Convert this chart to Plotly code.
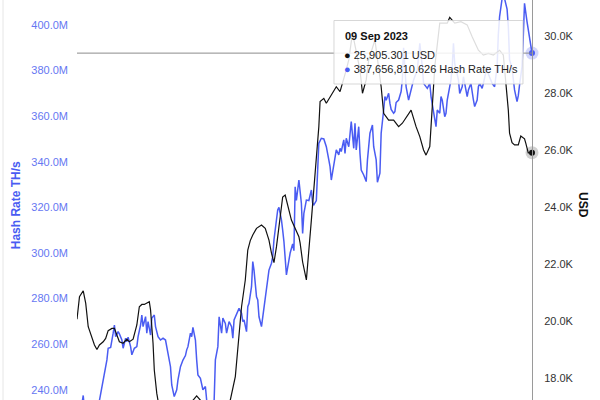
import pandas as pd
import plotly.graph_objects as go

START = "2022-09-09"

# ---- BTC price (USD), day offset from START ----
price_day = [0, 2, 5, 7, 9, 12, 14, 16, 18, 21,
             23, 25, 28, 30, 32, 34, 37, 40, 42, 45,
             48, 50, 52, 54, 58, 59, 61, 62, 64, 67,
             77, 87, 93, 96, 99, 107, 118, 123, 127, 129,
             132, 135, 137, 139, 141, 144, 148, 151, 154, 156,
             158, 160, 162, 165, 167, 172, 178, 179, 181, 184,
             188, 192, 194, 195, 198, 200, 203, 206, 208, 211,
             214, 216, 218, 221, 227, 229, 232, 234, 239, 244,
             246, 250, 254, 258, 261, 266, 268, 272, 275, 278,
             280, 283, 284, 286, 287, 291, 297, 299, 303, 308,
             313, 317, 322, 326, 330, 334, 339, 342, 344, 346,
             347, 349, 351, 354, 356, 359, 360, 362, 365]
price_usd = [20060, 20850, 21060, 20620, 19800, 19390, 19160, 19000, 19160, 19270,
             19390, 19660, 19740, 19740, 19470, 19270, 19220, 19360, 19270, 19360,
             19860, 20500, 20580, 20580, 20680, 20390, 19220, 18280, 17460, 16700,
             16400, 16900, 17200, 17370, 17220, 16800, 16900, 17230, 18050, 19100,
             20500, 21440, 22490, 22820, 23020, 23250, 23370, 23250, 22840, 22380,
             22050, 22600, 23310, 24350, 24420, 23540, 22960, 22730, 22070, 21440,
             23540, 25650, 26820, 27700, 27810, 27640, 27870, 28110, 28220, 28050,
             28460, 28810, 29160, 30100, 28810, 27990, 28460, 29160, 29860, 28220,
             27290, 27050, 27050, 26820, 26940, 27290, 27400, 26820, 26470, 26000,
             25820, 26120, 26820, 27990, 28920, 30450, 30450, 30650, 30450, 30500,
             30390, 29970, 29500, 29330, 29390, 29330, 29500, 29330, 28320, 27400,
             26590, 26260, 26180, 26180, 26490, 26390, 26240, 25900, 25905.301]

# ---- Hash rate (million TH/s), day offset from START ----
hash_day = [0, 3, 4, 5, 6, 9, 13, 17, 18, 20,
            22, 24, 25, 27, 29, 30, 31, 33, 34, 36,
            37, 39, 40, 41, 43, 44, 46, 48, 49, 51,
            52, 53, 55, 56, 57, 59, 60, 62, 63, 65,
            67, 69, 71, 73, 75, 76, 78, 79, 80, 81,
            83, 85, 87, 88, 89, 91, 92, 93, 95, 96,
            97, 99, 101, 103, 104, 106, 108, 110, 111, 113,
            114, 116, 117, 119, 120, 122, 124, 125, 126, 128,
            130, 132, 133, 134, 136, 137, 138, 140, 141, 142,
            144, 145, 146, 148, 149, 150, 152, 153, 154, 156,
            157, 158, 160, 161, 162, 164, 165, 166, 168, 170,
            171, 173, 174, 175, 176, 178, 180, 181, 182, 184,
            186, 188, 189, 190, 192, 194, 196, 198, 200, 202,
            203, 204, 206, 207, 208, 210, 211, 212, 214, 215,
            216, 218, 219, 220, 222, 223, 224, 226, 227, 228,
            230, 232, 233, 235, 237, 238, 240, 241, 243, 244,
            246, 247, 248, 250, 251, 252, 254, 255, 256, 258,
            260, 261, 262, 264, 266, 268, 270, 273, 275, 277,
            278, 281, 283, 284, 285, 287, 288, 289, 291, 292,
            293, 295, 296, 297, 299, 300, 301, 302, 303, 306,
            307, 309, 310, 311, 313, 314, 316, 318, 319, 321,
            322, 323, 325, 326, 329, 330, 333, 335, 337, 338,
            339, 341, 342, 343, 345, 346, 347, 349, 350, 351,
            353, 354, 355, 357, 358, 359, 361, 362, 363, 364,
            365]
hash_m = [228, 230, 234, 237.5, 231, 226, 229, 233, 235.3, 241.4,
          247.2, 253.1, 258.2, 258.6, 264.8, 268.4, 263.3, 265.5, 264.5, 261.8,
          258.2, 262.6, 261.1, 263, 258.9, 255.3, 258.2, 258.9, 263.3, 268.4,
          272.8, 267.7, 272.1, 264.8, 269.9, 264, 271.4, 272.8, 267.7, 263.3,
          261.8, 262.6, 261.8, 256, 250.1, 242.1, 237, 238.5, 240, 244.3,
          250.1, 253, 255, 257.5, 258.9, 264.8, 263.3, 267.4, 261.8, 253.1,
          246.5, 245, 240, 241.4, 235, 224, 226, 235, 253.1, 258.9,
          272, 264.8, 271.4, 269.1, 264.8, 269.9, 267.7, 262.6, 270.6, 273.6,
          275.7, 273.6, 269.9, 270.6, 265.5, 276.4, 277.9, 285.2, 296.2, 292.5,
          280.8, 279.4, 272, 267.7, 272, 277.9, 286, 290.4, 292.5, 295.5,
          298.4, 305.7, 314.5, 318.9, 320, 314.5, 310, 305, 290.4, 297,
          300, 304, 301, 329, 323, 332, 321.8, 308.6, 317.4, 323.2,
          323, 327.6, 322, 321.1, 323, 348.1, 350.3, 350, 346.6, 340.8,
          337.9, 332, 337.9, 340.8, 345.2, 343, 345.9, 344.5, 349.6, 343.7,
          350.3, 346.6, 353.9, 357.6, 345.9, 356.9, 345.2, 355.4, 343.7, 336.4,
          334.2, 331.3, 340.8, 352.5, 356.1, 346.6, 340.8, 331, 335, 352.5,
          362.7, 368.6, 367, 370, 365.7, 363, 361.3, 362, 366, 367.1,
          370.8, 376, 390, 372.9, 367.1, 372, 375.9, 380.3, 392, 381.7,
          374.4, 372.2, 374.4, 368.6, 365.7, 359.8, 355.4, 362.7, 361.3, 368.6,
          367, 359.8, 361.3, 367.1, 372.9, 375.9, 381.7, 392, 383, 375.9,
          370, 372.9, 377.3, 374.4, 368.6, 371.5, 374.4, 367.1, 364.2, 367.1,
          372.9, 374.4, 372.2, 374.4, 381.7, 378.5, 374.4, 372.9, 381.7, 396,
          403.7, 411.5, 412, 411.5, 407, 399.3, 384.6, 381, 375.9, 371.5,
          366.4, 369, 373.6, 381.7, 394.9, 409.5, 401.5, 397.8, 393, 390,
          387.656810626]

assert len(price_day) == len(price_usd), (len(price_day), len(price_usd))
assert len(hash_day) == len(hash_m), (len(hash_day), len(hash_m))

left_ticks = [240, 260, 280, 300, 320, 340, 360, 380, 400]
left_labels = ["240.0M", "260.0M", "280.0M", "300.0M", "320.0M", "340.0M", "360.0M", "380.0M", "400.0M"]
right_ticks = [18000, 20000, 22000, 24000, 26000, 28000, 30000]
right_labels = ["18.0K", "20.0K", "22.0K", "24.0K", "26.0K", "28.0K", "30.0K"]

hover_date = "09 Sep 2023"
hover_price = "25,905.301 USD"
hover_hash = "387,656,810.626 Hash Rate TH/s"

start = pd.Timestamp(START)
price_x = [start + pd.Timedelta(days=d) for d in price_day]
hash_x = [start + pd.Timedelta(days=d) for d in hash_day]

BLUE = "#4a5cf2"
FONT = "Helvetica Neue, Helvetica, Arial, Liberation Sans, sans-serif"

fig = go.Figure()
fig.add_trace(go.Scatter(x=hash_x, y=hash_m, mode="lines", yaxis="y",
                         line=dict(color=BLUE, width=1.5), showlegend=False))
fig.add_trace(go.Scatter(x=price_x, y=price_usd, mode="lines", yaxis="y2",
                         line=dict(color="#111111", width=1.2), showlegend=False))

# hovered points (halo + dot)
fig.add_trace(go.Scatter(x=[hash_x[-1]], y=[hash_m[-1]], mode="markers", yaxis="y",
                         marker=dict(size=13, color="rgba(74,92,242,0.25)"),
                         cliponaxis=False, showlegend=False))
fig.add_trace(go.Scatter(x=[hash_x[-1]], y=[hash_m[-1]], mode="markers", yaxis="y",
                         marker=dict(size=6, color=BLUE),
                         cliponaxis=False, showlegend=False))
fig.add_trace(go.Scatter(x=[price_x[-1]], y=[price_usd[-1]], mode="markers", yaxis="y2",
                         marker=dict(size=13, color="rgba(0,0,0,0.18)"),
                         cliponaxis=False, showlegend=False))
fig.add_trace(go.Scatter(x=[price_x[-1]], y=[price_usd[-1]], mode="markers", yaxis="y2",
                         marker=dict(size=6, color="#111111"),
                         cliponaxis=False, showlegend=False))

fig.update_layout(
    width=600, height=400,
    margin=dict(l=77, r=68, t=0, b=0, autoexpand=False),
    paper_bgcolor="white", plot_bgcolor="white",
    font=dict(family=FONT, size=11),
    hovermode=False,
    xaxis=dict(visible=False, range=[price_x[0], price_x[-1]]),
    yaxis=dict(range=[235.5, 410.96], tickvals=left_ticks, ticktext=left_labels,
               showgrid=False, zeroline=False, showline=False, ticks="",
               ticklabelstandoff=8, automargin=False,
               tickfont=dict(color="#6677f2", size=11, family=FONT)),
    yaxis2=dict(range=[17228, 31263], overlaying="y", side="right",
                tickvals=right_ticks, ticktext=right_labels,
                showgrid=False, zeroline=False, showline=True,
                linecolor="#9a9a9a", linewidth=1, ticks="",
                ticklabelstandoff=9, automargin=False,
                tickfont=dict(color="#333333", size=11, family=FONT)),
    shapes=[
        dict(type="line", xref="paper", yref="paper", x0=-0.1626, x1=-0.1626, y0=0, y1=1,
             line=dict(color="#e6e6e6", width=1)),
        dict(type="line", xref="paper", yref="y", x0=0, x1=1,
             y0=hash_m[-1], y1=hash_m[-1], layer="above",
             line=dict(color="#8c8c8c", width=1)),
        dict(type="rect", xref="paper", yref="paper", x0=0.5648, x1=0.9802, y0=0.79, y1=0.94875,
             layer="above", fillcolor="rgba(255,255,255,0.86)",
             line=dict(color="rgba(205,205,205,0.8)", width=1)),
    ],
    annotations=[
        dict(text="<b>Hash Rate TH/s</b>", xref="paper", yref="paper", x=-0.134, y=0.487,
             textangle=-90, showarrow=False, xanchor="center", yanchor="middle",
             font=dict(color=BLUE, size=12, family=FONT)),
        dict(text="<b>USD</b>", xref="paper", yref="paper", x=1.112, y=0.4875,
             textangle=90, showarrow=False, xanchor="center", yanchor="middle",
             font=dict(color="#111111", size=12, family=FONT)),
        dict(text="<b>" + hover_date + "</b>", xref="paper", yref="paper", x=0.5846, y=0.91,
             showarrow=False, xanchor="left", yanchor="middle",
             font=dict(color="#111111", size=11, family=FONT)),
        dict(text='<span style="color:#111111">●</span> ' + hover_price, xref="paper", yref="paper",
             x=0.5825, y=0.8625, showarrow=False, xanchor="left", yanchor="middle",
             font=dict(color="#222222", size=11, family=FONT)),
        dict(text='<span style="color:' + BLUE + '">●</span> ' + hover_hash, xref="paper", yref="paper",
             x=0.5825, y=0.8275, showarrow=False, xanchor="left", yanchor="middle",
             font=dict(color="#222222", size=11, family=FONT)),
    ],
)

fig.write_html(
    "out.html",
    config={"displayModeBar": False},
    post_script="document.body.style.margin='0';document.body.style.overflow='hidden';",
)
